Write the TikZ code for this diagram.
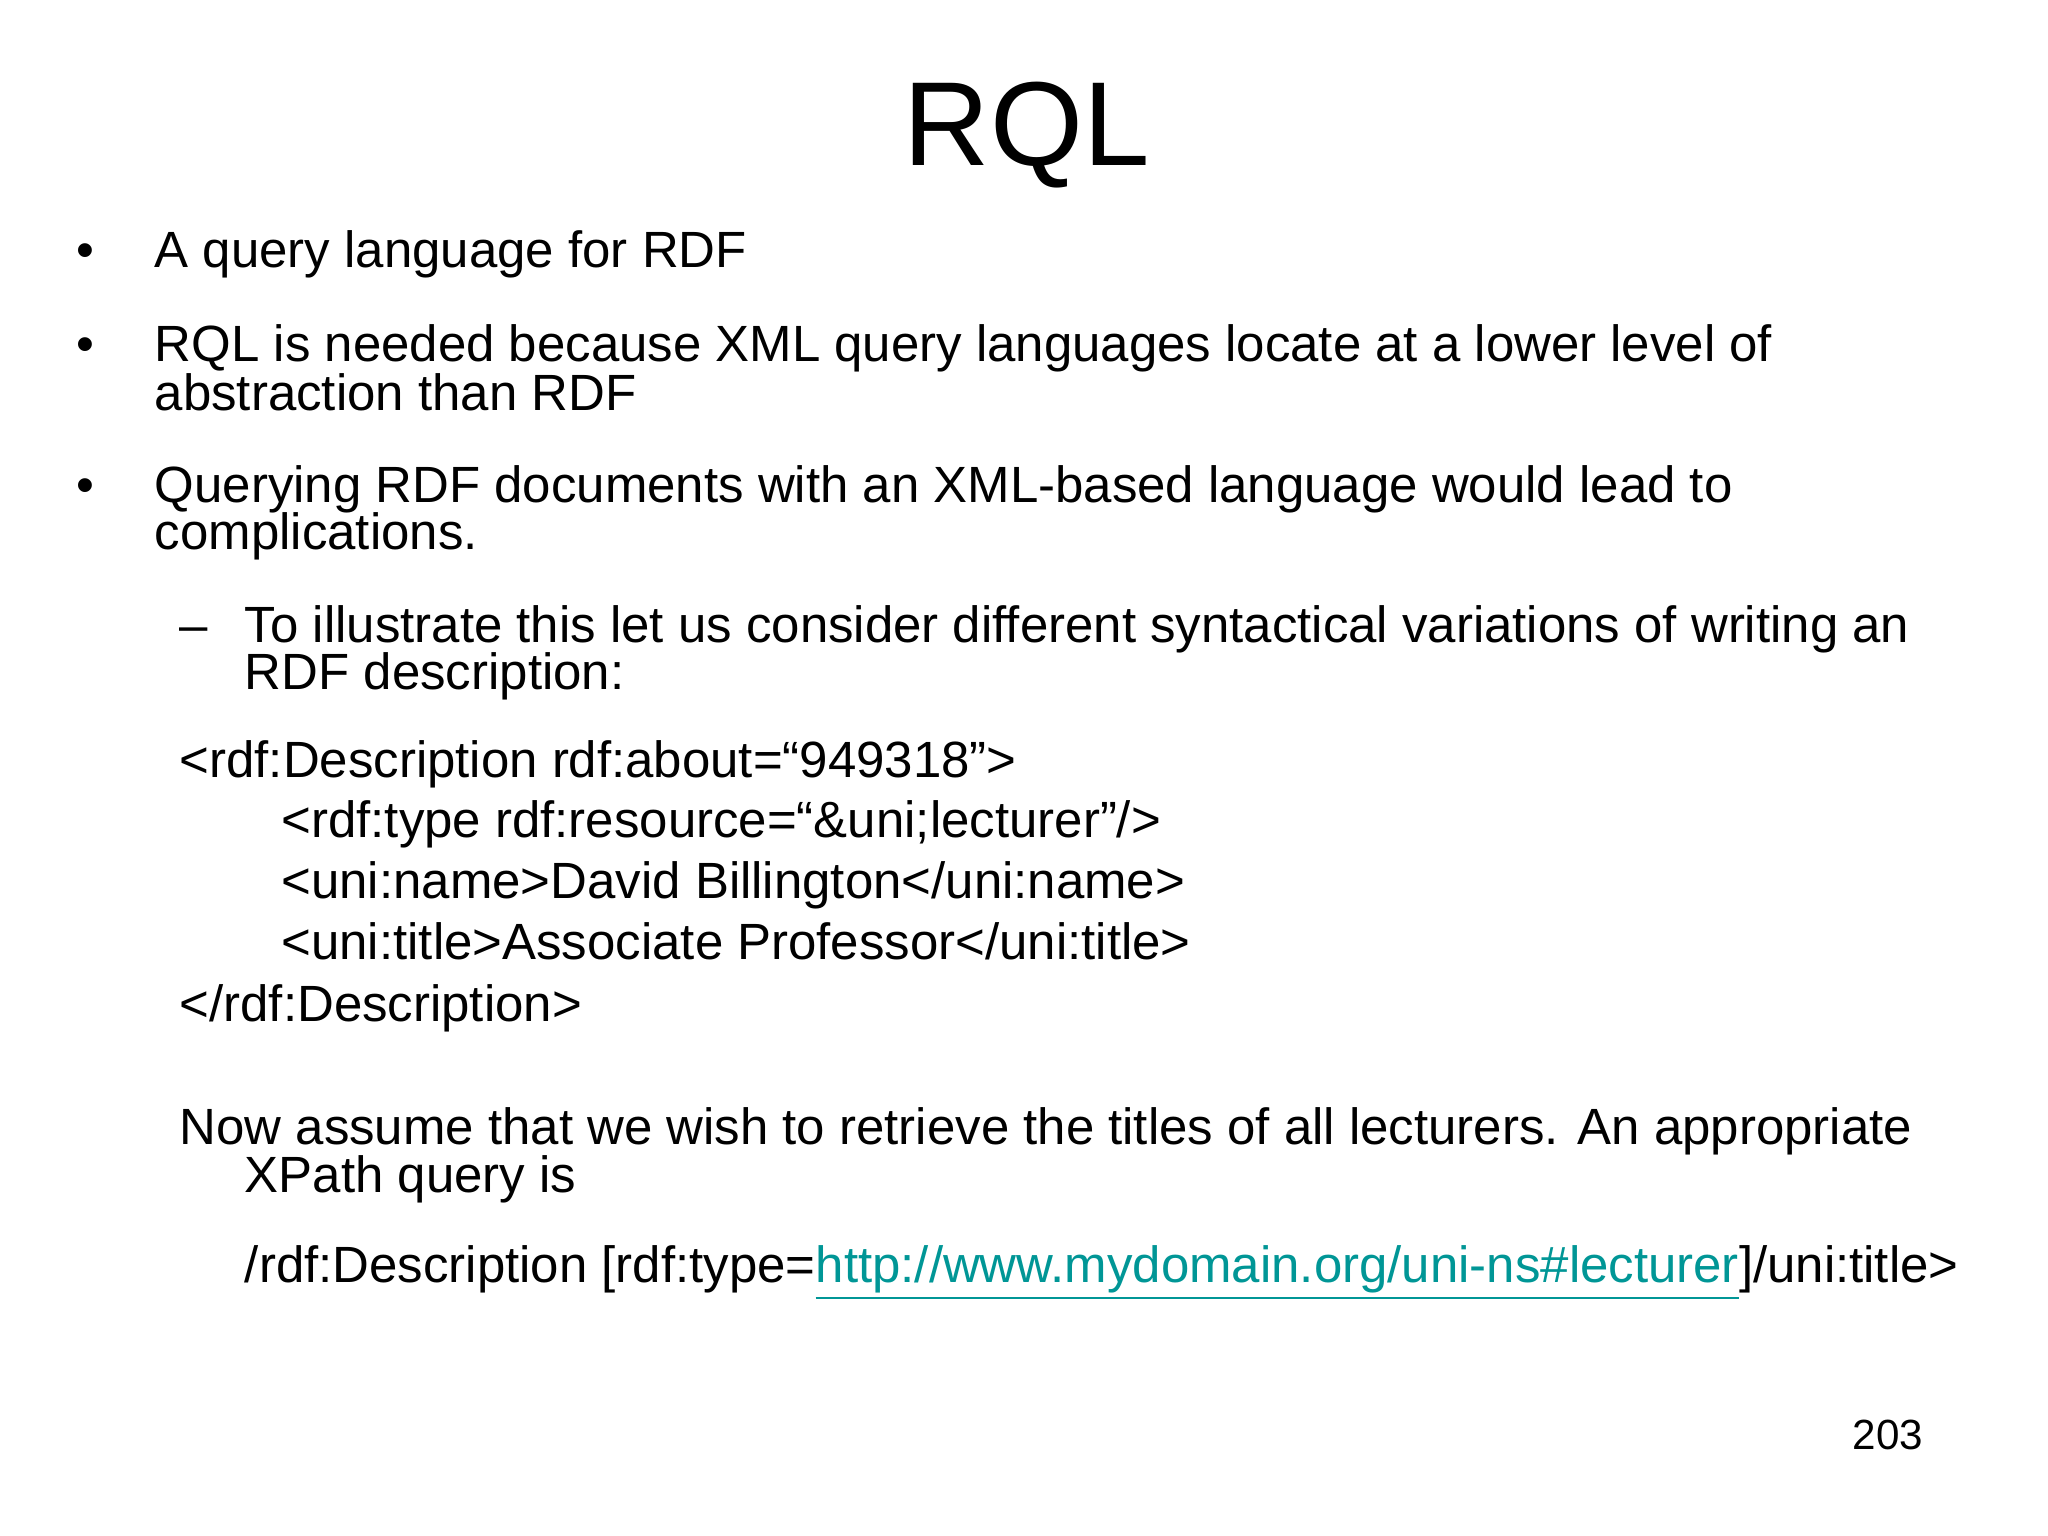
\documentclass[tikz,border=0pt]{standalone}
\usepackage{fontspec}
\setmainfont{Liberation Sans}
\definecolor{linkc}{RGB}{0,150,150}
\begin{document}
\begin{tikzpicture}[x=0.01306cm,y=-0.01306cm,
  txt/.style={anchor=base west,inner sep=0pt,font=\fontsize{14.5}{17}\selectfont}]
\useasboundingbox[fill=white] (0,0) rectangle (1568,1176);
\node[anchor=base,inner sep=0pt,font=\fontsize{34}{40}\selectfont] (title) at (786,127) {RQL};
\node[txt] (b1) at (58,205) {•};
\node[txt] (t1) at (118,205) {A query language for RDF};
\node[txt] (b2) at (58,277) {•};
\node[txt] (t2a) at (118,277) {RQL is needed because XML query languages locate at a lower level of};
\node[txt] (t2b) at (118,314) {abstraction than RDF};
\node[txt] (b3) at (58,385) {•};
\node[txt] (t3a) at (118,385) {Querying RDF documents with an XML-based language would lead to};
\node[txt] (t3b) at (118,421) {complications.};
\node[txt] (d1) at (137,492) {–};
\node[txt] (t4a) at (187,492) {To illustrate this let us consider different syntactical variations of writing an};
\node[txt] (t4b) at (187,528) {RDF description:};
\node[txt] (c1) at (137,595) {<rdf:Description rdf:about=“949318”>};
\node[txt] (c2) at (215,641) {<rdf:type rdf:resource=“\&uni;lecturer”/>};
\node[txt] (c3) at (215,688) {<uni:name>David Billington</uni:name>};
\node[txt] (c4) at (215,735) {<uni:title>Associate Professor</uni:title>};
\node[txt] (c5) at (137,782) {</rdf:Description>};
\node[txt] (n1) at (137,876) {Now assume that we wish to retrieve the titles of all lecturers. An appropriate};
\node[txt] (n2) at (187,913) {XPath query is};
\node[txt] (x1) at (187,982) {/rdf:Description [rdf:type=\textcolor{linkc}{\underline{http://www.mydomain.org/uni-ns\#lecturer}}]/uni:title>};
\node[anchor=base east,inner sep=0pt,font=\fontsize{12}{14}\selectfont] (pg) at (1473,1110) {203};
\end{tikzpicture}
\end{document}
